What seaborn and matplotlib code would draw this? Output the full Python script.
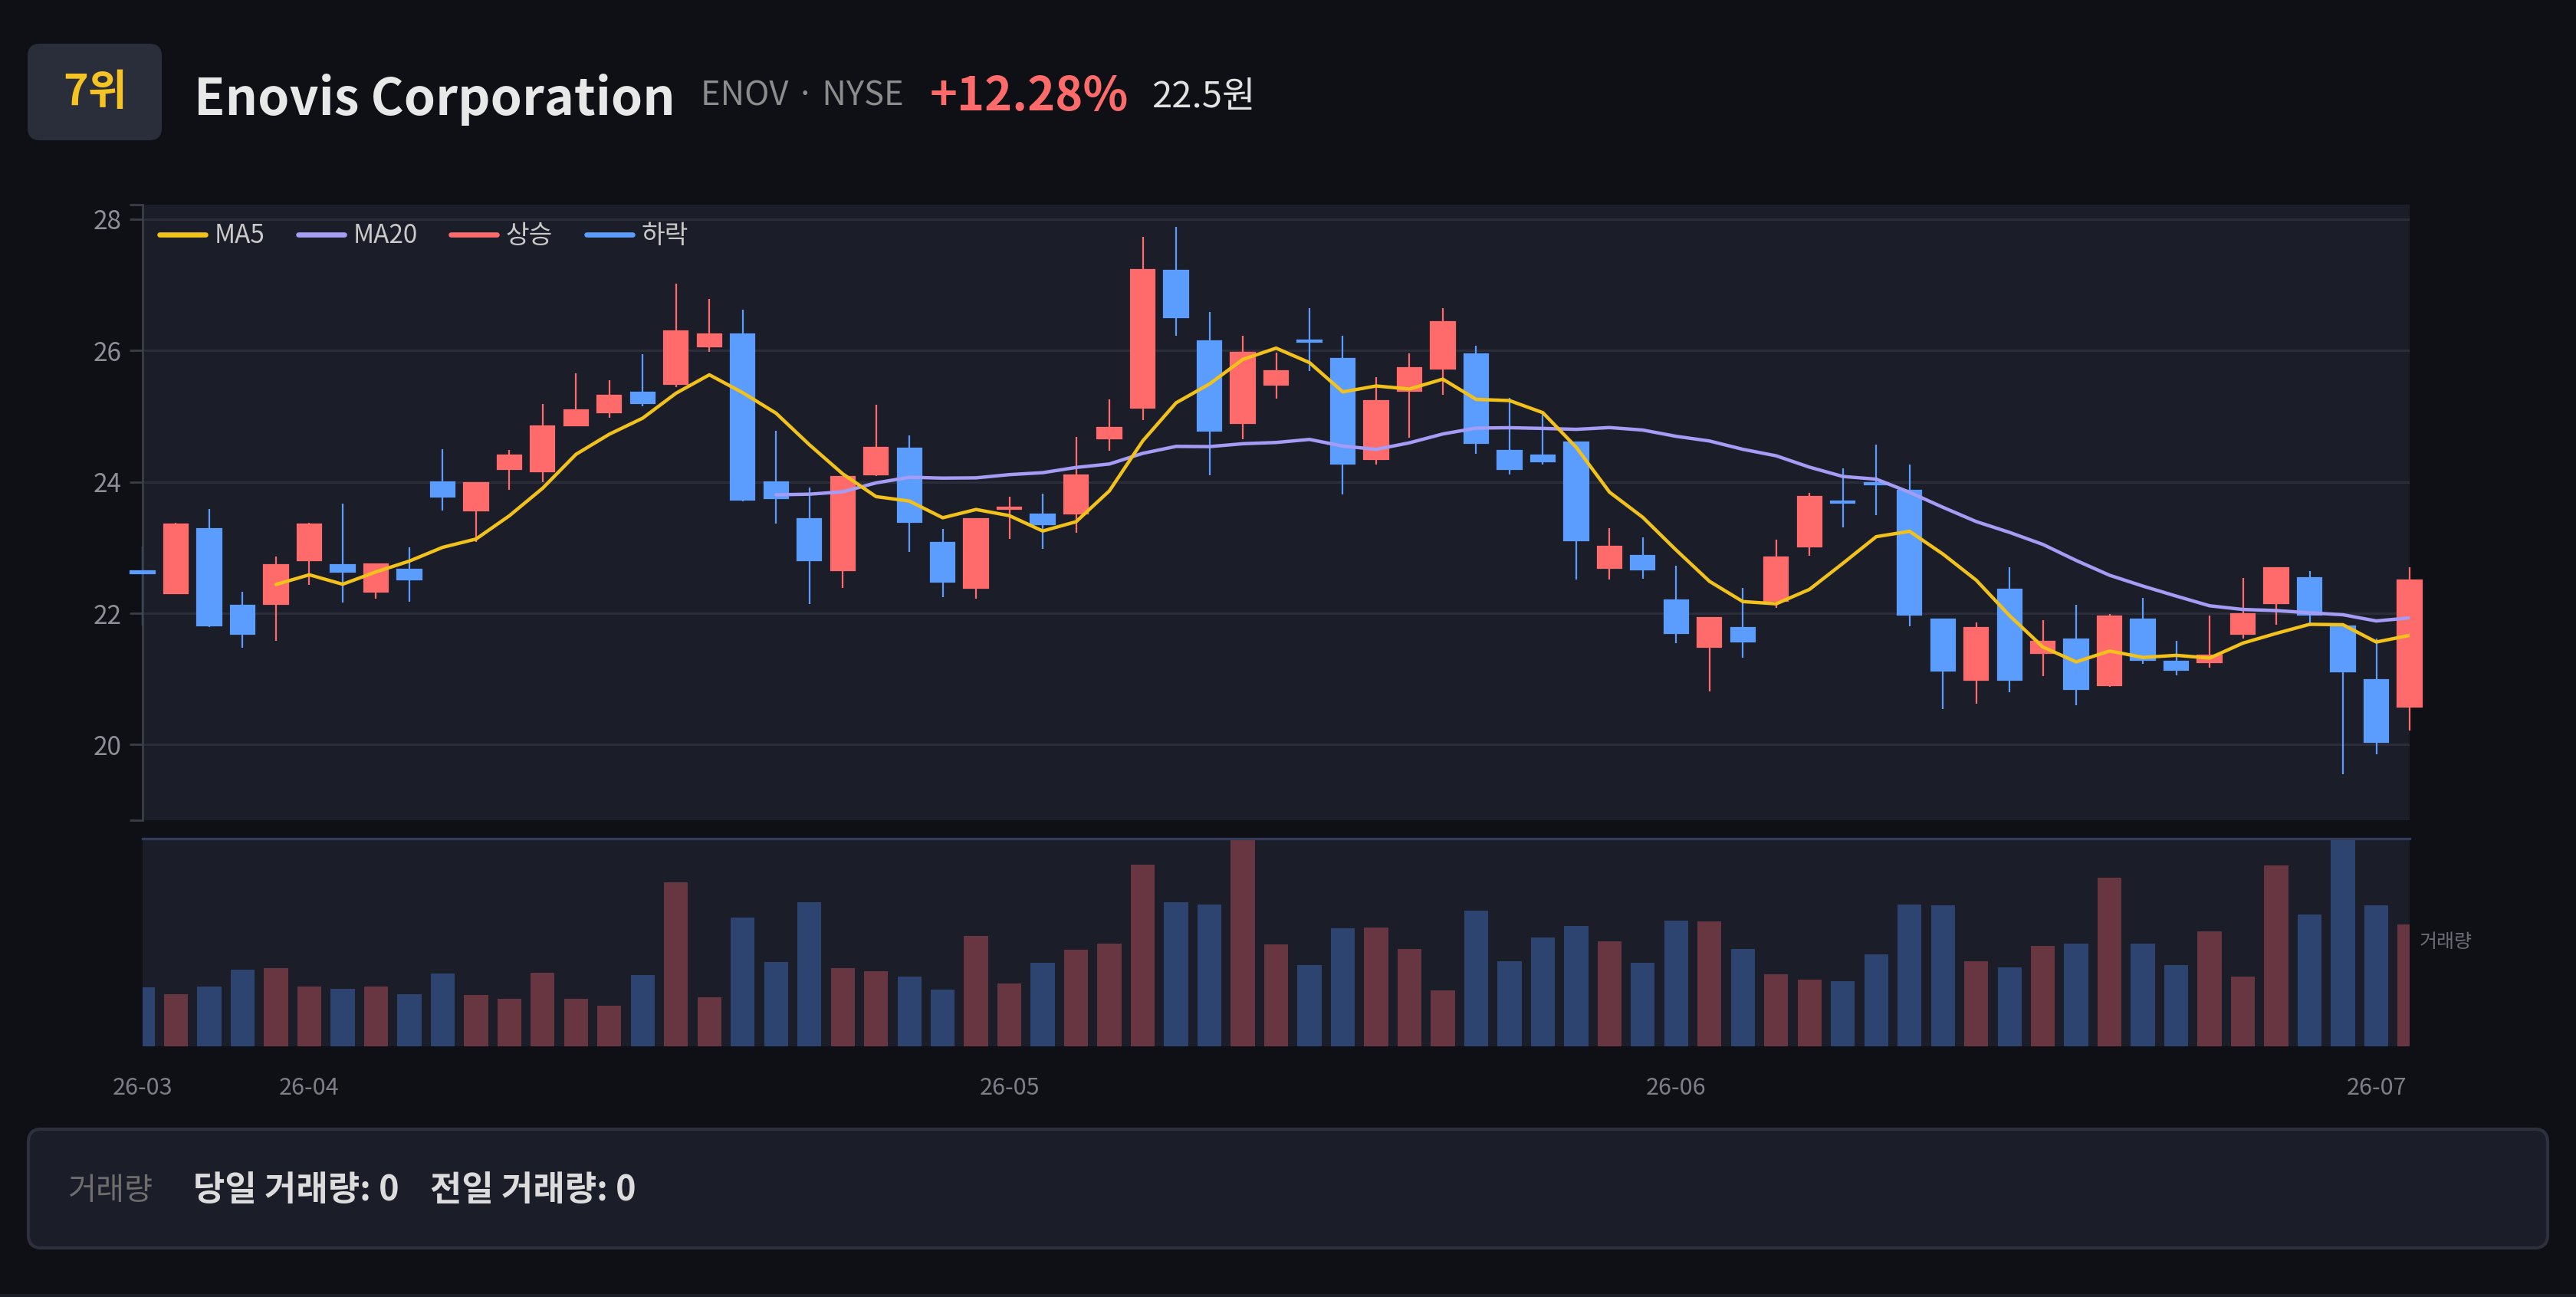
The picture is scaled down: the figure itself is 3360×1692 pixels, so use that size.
import matplotlib
matplotlib.use("Agg")
import matplotlib.pyplot as plt
import matplotlib.patches as mpatches
from matplotlib.lines import Line2D
import numpy as np
import pandas as pd
import seaborn as sns

# ---------------------------------------------------------------------------
# DATA
# ---------------------------------------------------------------------------
opens = [22.64, 22.30, 23.28, 22.12, 22.14, 22.80, 22.73, 22.33, 22.67, 24.00,
         23.56, 24.20, 24.16, 24.86, 25.06, 25.36, 25.49, 26.06, 26.25, 24.00,
         23.43, 22.65, 24.11, 24.51, 23.07, 22.38, 23.59, 23.51, 23.52, 24.66,
         25.13, 27.22, 26.14, 24.89, 25.48, 26.15, 25.88, 24.35, 25.38, 25.72,
         25.95, 24.48, 24.40, 24.60, 22.69, 22.87, 22.20, 21.49, 21.78, 22.19,
         23.02, 23.70, 23.98, 23.87, 21.91, 20.99, 22.36, 21.39, 21.60, 20.90,
         21.91, 21.27, 21.25, 21.68, 22.15, 22.54, 21.80, 20.99, 20.58]
highs = [23.01, 23.38, 23.59, 22.33, 22.86, 23.38, 23.67, 22.76, 23.00, 24.50,
         24.00, 24.49, 25.19, 25.65, 25.55, 25.94, 27.02, 26.78, 26.62, 24.78,
         23.92, 24.09, 25.17, 24.71, 23.28, 23.45, 23.77, 23.82, 24.69, 25.26,
         27.73, 27.88, 26.59, 26.23, 25.97, 26.65, 26.22, 25.60, 25.96, 26.64,
         26.07, 25.28, 25.03, 24.62, 23.30, 23.15, 22.72, 21.94, 22.38, 23.12,
         23.83, 24.21, 24.57, 24.27, 21.92, 21.86, 22.70, 21.89, 22.13, 21.99,
         22.23, 21.58, 21.96, 22.54, 22.70, 22.64, 21.82, 21.61, 22.70]
lows = [21.81, 22.29, 21.79, 21.47, 21.58, 22.43, 22.16, 22.22, 22.17, 23.56,
        23.09, 23.88, 24.00, 24.86, 24.98, 25.15, 25.44, 25.98, 23.71, 23.37,
        22.14, 22.38, 24.09, 22.93, 22.25, 22.22, 23.13, 22.98, 23.22, 24.47,
        24.94, 26.23, 24.10, 24.65, 25.27, 25.69, 23.81, 24.26, 24.67, 25.33,
        24.43, 24.11, 24.27, 22.51, 22.51, 22.53, 21.54, 20.81, 21.32, 22.08,
        22.88, 23.31, 23.49, 21.80, 20.54, 20.62, 20.80, 21.04, 20.60, 20.88,
        21.23, 21.05, 21.17, 21.62, 21.83, 21.80, 19.55, 19.85, 20.22]
closes = [22.61, 23.35, 21.81, 21.69, 22.73, 23.35, 22.63, 22.75, 22.51, 23.78,
          23.98, 24.40, 24.85, 25.09, 25.31, 25.20, 26.30, 26.25, 23.73, 23.75,
          22.80, 24.08, 24.52, 23.39, 22.48, 23.43, 23.61, 23.35, 24.10, 24.83,
          27.23, 26.51, 24.78, 25.97, 25.69, 26.13, 24.28, 25.23, 25.74, 26.44,
          24.59, 24.19, 24.31, 23.11, 23.02, 22.67, 21.70, 21.93, 21.57, 22.85,
          23.77, 23.68, 23.96, 21.98, 21.12, 21.78, 20.98, 21.57, 20.85, 21.95,
          21.29, 21.14, 21.36, 21.99, 22.69, 21.98, 21.11, 20.04, 22.50]
volumes = [282, 250, 286, 367, 377, 287, 275, 287, 251, 351,
           246, 230, 352, 228, 195, 341, 789, 236, 619, 406,
           693, 376, 360, 335, 273, 530, 302, 401, 463, 493,
           873, 692, 683, 998, 490, 390, 568, 571, 467, 268,
           650, 410, 523, 580, 504, 401, 603, 602, 468, 345,
           320, 313, 441, 682, 676, 409, 381, 484, 495, 809,
           493, 392, 552, 336, 868, 632, 998, 676, 586]
month_labels = ["26-03", "26-04", "26-05", "26-06", "26-07"]
month_first_idx = [0, 5, 26, 46, 67]
price_ticks = [20, 22, 24, 26, 28]

# ---------------------------------------------------------------------------
# STYLE
# ---------------------------------------------------------------------------
FIG_BG = "#0f1015"
PLOT_BG = "#1b1d28"
GRID = "#2b2e3a"
AXIS = "#3b3e49"
UP = "#ff6b6b"
DOWN = "#5b9cff"
UP_VOL = "#673641"
DOWN_VOL = "#2d4470"
MA5_C = "#f2c21b"
MA20_C = "#a59cf5"

sns.set_theme(style="dark")
plt.rcParams["font.family"] = ["Noto Sans CJK KR", "DejaVu Sans"]

df = pd.DataFrame({"open": opens, "high": highs, "low": lows,
                   "close": closes, "volume": volumes})
df["idx"] = np.arange(len(df))
df["dir"] = np.where(df["close"] >= df["open"], "상승", "하락")
df["ma5"] = df["close"].rolling(5).mean()
df["ma20"] = df["close"].rolling(20).mean()
cols = df["dir"].map({"상승": UP, "하락": DOWN}).tolist()

W, H = 3360, 1692
fig = plt.figure(figsize=(W / 200, H / 200), dpi=200, facecolor=FIG_BG)

# overlay in pixel coordinates for header / footer boxes
bg = fig.add_axes([0, 0, 1, 1], zorder=-1)
bg.set_xlim(0, W)
bg.set_ylim(H, 0)
bg.set_facecolor(FIG_BG)
bg.axis("off")

ax = fig.add_axes([186 / W, 1 - 1070 / H, (3143 - 186) / W, (1070 - 267) / H])
axv = fig.add_axes([186 / W, 1 - 1365 / H, (3143 - 186) / W, (1365 - 1094) / H])

# ---------------------------------------------------------------------------
# CANDLES + MOVING AVERAGES
# ---------------------------------------------------------------------------
ax.set_facecolor(PLOT_BG)
ax.vlines(df["idx"], df["low"], df["high"], colors=cols, lw=0.8, zorder=2, clip_on=False)
body_lo = df[["open", "close"]].min(axis=1)
body_h = (df["close"] - df["open"]).abs()
ax.bar(df["idx"], body_h, bottom=body_lo, width=0.72, color=cols, edgecolor=cols,
       lw=0.8, zorder=3, clip_on=False)

sns.lineplot(data=df, x="idx", y="ma20", color=MA20_C, lw=1.6, ax=ax, zorder=4)
sns.lineplot(data=df, x="idx", y="ma5", color=MA5_C, lw=1.6, ax=ax, zorder=5)

ax.set_xlim(0, len(df) - 1)
ax.set_ylim(18.85, 28.22)
ax.set_yticks(price_ticks)
ax.set_yticks([18.85, 28.22], minor=True)
ax.set_xlabel("")
ax.set_ylabel("")
ax.yaxis.grid(True, color=GRID, lw=1.1)
ax.xaxis.grid(False)
for sp in ["top", "right", "bottom"]:
    ax.spines[sp].set_visible(False)
ax.spines["left"].set_color(AXIS)
ax.spines["left"].set_linewidth(1.0)
ax.tick_params(axis="y", which="both", left=True, length=6, width=1, color=AXIS,
               labelcolor="#8c8f98", labelsize=12, pad=4)
ax.tick_params(axis="x", bottom=False, labelbottom=False)

handles = [Line2D([0], [0], color=c, lw=2.4, solid_capstyle="round")
           for c in [MA5_C, MA20_C, UP, DOWN]]
ax.legend(handles, ["MA5", "MA20", "상승", "하락"], loc="center left",
          bbox_to_anchor=(0.0075, 0.949), ncol=4, frameon=False, fontsize=12,
          labelcolor="#c9c9c9", handlelength=1.8, handletextpad=0.35,
          columnspacing=1.3, borderpad=0, borderaxespad=0)

# ---------------------------------------------------------------------------
# VOLUME
# ---------------------------------------------------------------------------
axv.set_facecolor(PLOT_BG)
sns.barplot(data=df, x="idx", y="volume", hue="dir",
            palette={"상승": UP_VOL, "하락": DOWN_VOL}, dodge=False, width=0.72,
            saturation=1, errorbar=None, legend=False, linewidth=0,
            edgecolor="none", ax=axv)
axv.set_xlim(0, len(df) - 1)
axv.set_ylim(0, max(volumes))
axv.set_xticks(month_first_idx)
axv.set_xticklabels(month_labels)
axv.set_yticks([])
axv.set_xlabel("")
axv.set_ylabel("")
axv.grid(False)
for sp in ["left", "right", "bottom"]:
    axv.spines[sp].set_visible(False)
axv.spines["top"].set_color("#343b58")
axv.spines["top"].set_linewidth(1.2)
axv.tick_params(axis="x", bottom=False, labelcolor="#7c7f87", labelsize=11, pad=8)
axv.text(1.0044, 0.5, "거래량", transform=axv.transAxes, ha="left", va="center",
         color="#6b6e76", fontsize=9)

# ---------------------------------------------------------------------------
# HEADER
# ---------------------------------------------------------------------------
bg.add_patch(mpatches.FancyBboxPatch((36, 57), 175, 126,
                                     boxstyle="round,pad=0,rounding_size=16",
                                     fc="#2a2e3a", ec="none"))
bg.text(124, 121, "7위", ha="center", va="center", fontsize=20,
        fontweight="bold", color="#f6c324")
bg.text(253, 150, "Enovis Corporation", ha="left", va="baseline", fontsize=23.8,
        fontweight="bold", color="#e8e8e8")
bg.text(914, 137.5, "ENOV · NYSE", ha="left", va="baseline", fontsize=15.7,
        color="#8c8c8c")
bg.text(1213, 144, "+12.28%", ha="left", va="baseline", fontsize=22,
        fontweight="bold", color=UP)
bg.text(1502, 140, "22.5원", ha="left", va="baseline", fontsize=17,
        color="#e2e2e2")

# ---------------------------------------------------------------------------
# FOOTER BOX
# ---------------------------------------------------------------------------
bg.add_patch(mpatches.FancyBboxPatch((37, 1473), 3286, 155,
                                     boxstyle="round,pad=0,rounding_size=17",
                                     fc="#1b1d28", ec="#2e313d", lw=1.5))
bg.text(89, 1553, "거래량", ha="left", va="center", fontsize=14.5, color="#6e6e6e")
bg.text(252, 1553, "당일 거래량: 0", ha="left", va="center", fontsize=16.2,
        fontweight="bold", color="#dcdcdc")
bg.text(561, 1553, "전일 거래량: 0", ha="left", va="center", fontsize=16.2,
        fontweight="bold", color="#dcdcdc")
bg.add_patch(mpatches.Rectangle((0, 1688), W, 4, fc="#1b1d28", ec="none"))

fig.savefig("out.png", dpi=200, facecolor=FIG_BG)
